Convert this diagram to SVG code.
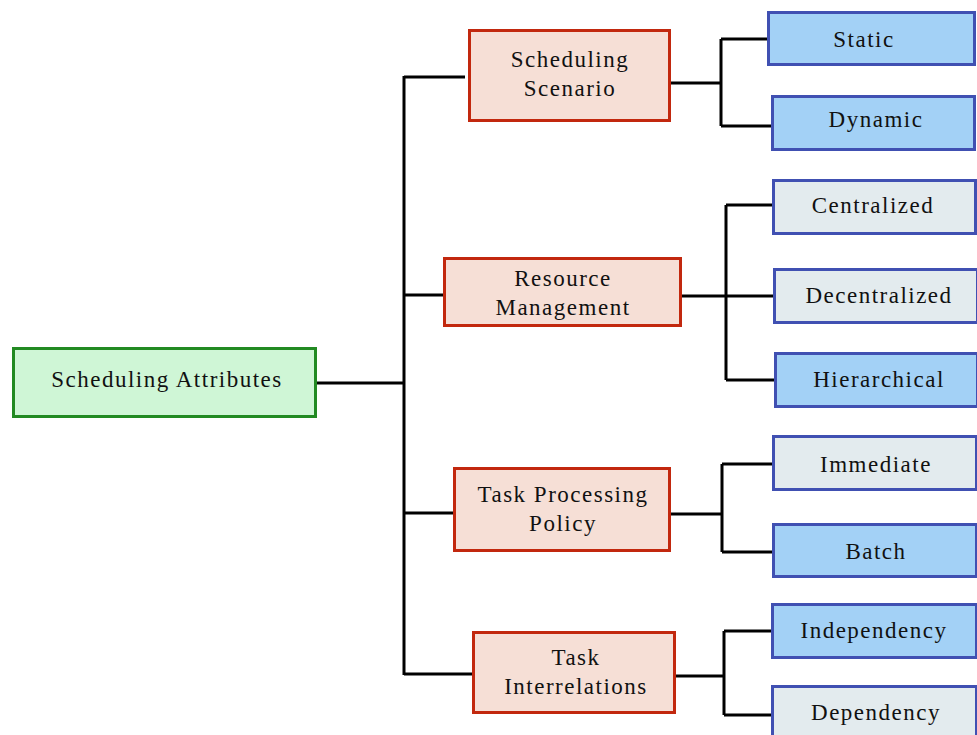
<svg xmlns="http://www.w3.org/2000/svg" width="977" height="735" viewBox="0 0 977 735">
<style>
.n rect{stroke-width:3}
.root rect{fill:#cff6d6;stroke:#228a22}
.mid rect{fill:#f6dfd6;stroke:#c2280e}
.blue rect{fill:#a3d1f6;stroke:#4050b2}
.grey rect{fill:#e3ebee;stroke:#4050b2}
text{font-family:"Liberation Serif","DejaVu Serif",serif;font-size:23px;fill:#111;text-anchor:middle;letter-spacing:1.5px}
#edges path{fill:none;stroke:#000;stroke-width:3}
</style>
<rect width="977" height="735" fill="#fff"/>
<g id="edges">
<path d="M316 383H404M404 76V675M404 77H465M404 295H444M404 513H454M404 674H473"/>
<path d="M670 83H721M721 39V126M721 39H768M721 126H772"/>
<path d="M681 296H774M726 205V380M726 205H773M726 380H775"/>
<path d="M670 514H722M722 464V552M722 464H773M722 552H773"/>
<path d="M675 676H724M724 631V715M724 631H772M724 715H772"/>
</g>
<g id="root" class="n root"><rect x="13.5" y="348.5" width="302" height="68"/><text x="167" y="387">Scheduling Attributes</text></g>
<g id="scenario" class="n mid"><rect x="469.5" y="30.5" width="200" height="90"/><text x="570" y="67">Scheduling</text><text x="570" y="96">Scenario</text></g>
<g id="resource" class="n mid"><rect x="444.5" y="258.5" width="236" height="67"/><text x="563" y="286">Resource</text><text x="563" y="315">Management</text></g>
<g id="policy" class="n mid"><rect x="454.5" y="468.5" width="215" height="82"/><text x="563" y="502">Task Processing</text><text x="563" y="531">Policy</text></g>
<g id="interrelations" class="n mid"><rect x="473.5" y="632.5" width="201" height="80"/><text x="576" y="665">Task</text><text x="576" y="694">Interrelations</text></g>
<g id="static" class="n blue"><rect x="768.5" y="12.5" width="206" height="52"/><text x="864" y="47">Static</text></g>
<g id="dynamic" class="n blue"><rect x="772.5" y="96.5" width="202" height="53"/><text x="876" y="127">Dynamic</text></g>
<g id="centralized" class="n grey"><rect x="773.5" y="180.5" width="202" height="53"/><text x="873" y="213">Centralized</text></g>
<g id="decentralized" class="n grey"><rect x="774.5" y="269.5" width="203" height="53"/><text x="879" y="303">Decentralized</text></g>
<g id="hierarchical" class="n blue"><rect x="775.5" y="353.5" width="202" height="53"/><text x="879" y="387">Hierarchical</text></g>
<g id="immediate" class="n grey"><rect x="773.5" y="436.5" width="203" height="53"/><text x="876" y="472">Immediate</text></g>
<g id="batch" class="n blue"><rect x="773.5" y="524.5" width="203" height="52"/><text x="876" y="559">Batch</text></g>
<g id="independency" class="n blue"><rect x="772.5" y="604.5" width="204" height="53"/><text x="874" y="638">Independency</text></g>
<g id="dependency" class="n grey"><rect x="772.5" y="686.5" width="204" height="53"/><text x="876" y="720">Dependency</text></g>
</svg>
